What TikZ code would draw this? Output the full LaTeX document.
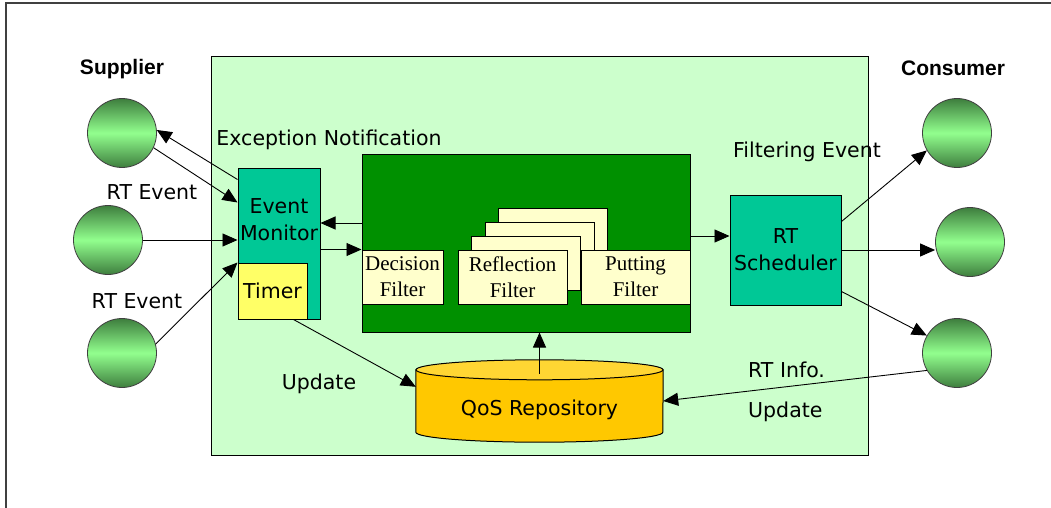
\documentclass[tikz,border=0pt]{standalone}
\usepackage{fontspec}
\setmainfont{DejaVu Sans}
\newfontfamily\filterfont{Liberation Serif}
\newfontfamily\headfont{Liberation Sans}
\usetikzlibrary{arrows.meta}

\definecolor{paleg}{HTML}{CCFFCC}
\definecolor{teal}{HTML}{00C896}
\definecolor{coreg}{HTML}{009000}
\definecolor{cream}{HTML}{FFFFCC}
\definecolor{timery}{HTML}{FFFF66}
\definecolor{qosbody}{HTML}{FFC800}
\definecolor{qostop}{HTML}{FFD633}
\definecolor{shdark}{HTML}{3E7E3E}
\definecolor{shlight}{HTML}{92FF8E}

\begin{document}
\begin{tikzpicture}[
  x=1pt, y=-1pt,
  txt/.style={font=\fontsize{20.5}{27}\selectfont, align=center, inner sep=0pt},
  head/.style={font=\headfont\bfseries\fontsize{21}{25}\selectfont, inner sep=0pt},
  pnode/.style={circle, minimum size=69pt, draw=black!75, line width=0.8pt, top color=shdark, bottom color=shdark, middle color=shlight},
  bx/.style={rectangle, draw=black, line width=1pt, inner sep=0pt},
  fbox/.style={bx, fill=cream, minimum width=109pt, minimum height=54pt, font=\filterfont\fontsize{21}{26}\selectfont, align=center},
  cyl/.style={draw=black, line width=1pt},
  arw/.style={-{Triangle[length=15pt,width=13pt]}, line width=0.9pt}
  ]

\useasboundingbox (0,0) rectangle (1051,508);
\draw [black!75, line width=1.6pt] (6,508) -- (6,3) -- (1051,3);

\node [bx, fill=paleg, minimum width=657pt, minimum height=398pt] (bg) at (539.5,256) {};
\node [bx, fill=coreg, minimum width=328pt, minimum height=178pt] (core) at (526,243) {};

\node [fbox] (refl3) at (552.5,235) {};
\node [fbox] (refl2) at (539.5,249) {};
\node [fbox] (refl1) at (525.5,263) {};
\node [fbox] (refl) at (512.5,277) {Reflection\\Filter};
\node [fbox] (put) at (635.5,277) {Putting\\Filter};
\node [fbox, minimum width=81pt] (dec) at (402.5,277) {Decision\\Filter};

\node [bx, fill=teal, minimum width=82pt, minimum height=151pt] (mon) at (279,243.5) {};
\node [txt] (montxt) at (279,220) {Event\\Monitor};
\node [bx, fill=timery, minimum width=69pt, minimum height=56pt, txt] (tmr) at (272.5,291) {Timer};
\node [bx, fill=teal, minimum width=111pt, minimum height=110pt, txt] (sch) at (785.5,250) {RT\\Scheduler};

\node [minimum width=247pt, minimum height=82pt, inner sep=0pt] (qos) at (539.5,401) {};
\draw [cyl, fill=qosbody] ([yshift=-10pt]qos.north west) -- ([yshift=10pt]qos.south west)
  arc [start angle=180, end angle=0, x radius=123.5, y radius=10] -- ([yshift=-10pt]qos.north east) -- cycle;
\draw [cyl, fill=qostop] ([yshift=-10pt]qos.north) ellipse [x radius=123.5, y radius=10];
\node [txt, anchor=base] (qostxt) at (539.5,415) {QoS Repository};

\node [pnode] (s1) at (122,133) {};
\node [pnode] (s2) at (108,240) {};
\node [pnode] (s3) at (122,353) {};
\node [pnode] (c1) at (957,133) {};
\node [pnode] (c2) at (970,242) {};
\node [pnode] (c3) at (957,353) {};

\node [head, anchor=base] (suplbl) at (122,75) {Supplier};
\node [head, anchor=base] (conlbl) at (953,76) {Consumer};
\node [txt, anchor=base] (exclbl) at (329,145) {Exception Notification};
\node [txt, anchor=base] (ev1) at (152,199) {RT Event};
\node [txt, anchor=base] (ev2) at (137,308) {RT Event};
\node [txt, anchor=base] (filtlbl) at (807,157) {Filtering Event};
\node [txt, anchor=base] (upd1) at (319,389) {Update};
\node [txt, anchor=base west] (info) at (748,377) {RT Info.};
\node [txt, anchor=base west] (upd2) at (748,417) {Update};

\draw [arw] ([yshift=-12pt]mon.north west) -- (s1.5);
\draw [arw] (s1.-25) -- ([yshift=-35pt]mon.north west);
\draw [arw] (s2.east) -- (s2.east -| mon.west);
\draw [arw] (s3.15) -- (tmr.north west);
\draw [arw] ([yshift=20pt]core.west) -- ([yshift=20pt]core.west -| mon.east);
\draw [arw] (dec.north west -| mon.east) -- (dec.north west);
\draw [arw] ([yshift=7pt]core.east) -- ([yshift=7pt]core.east -| sch.west);
\draw [arw] ([yshift=-27pt]sch.north east) -- (c1.210);
\draw [arw] (sch.east) -- (sch.east -| c2.west);
\draw [arw] ([yshift=14pt]sch.south east) -- (c3.150);
\draw [arw] ([xshift=-14pt]tmr.south east) -- ([yshift=-27pt]qos.north west);
\draw [arw] ([yshift=-14pt]qos.north) -- (qos.north |- core.south);
\draw [arw] (c3.210) -- (qos.east);

\end{tikzpicture}
\end{document}
